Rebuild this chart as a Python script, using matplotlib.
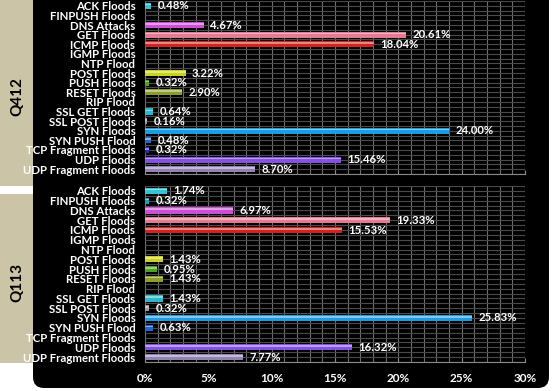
import numpy as np
import matplotlib
matplotlib.use("Agg")
import matplotlib.pyplot as plt
from matplotlib.patches import FancyBboxPatch

plt.rcParams['font.family'] = ['Lato', 'DejaVu Sans']

categories = ['ACK Floods', 'FINPUSH Floods', 'DNS Attacks', 'GET Floods', 'ICMP Floods',
              'IGMP Floods', 'NTP Flood', 'POST Floods', 'PUSH Floods', 'RESET Floods',
              'RIP Flood', 'SSL GET Floods', 'SSL POST Floods', 'SYN Floods',
              'SYN PUSH Flood', 'TCP Fragment Floods', 'UDP Floods', 'UDP Fragment Floods']

q412 = [0.48, 0, 4.67, 20.61, 18.04, 0, 0, 3.22, 0.32, 2.90, 0, 0.64, 0.16, 24.00,
        0.48, 0.32, 15.46, 8.70]
q113 = [1.74, 0.32, 6.97, 19.33, 15.53, 0, 0, 1.43, 0.95, 1.43, 0, 1.43, 0.32, 25.83,
        0.63, 0, 16.32, 7.77]

bar_colors = ['#34c4d4', '#1b9fb2', '#cc4fd6', '#e57a93', '#d3221f', '#888888', '#888888',
              '#c9d21e', '#4fa21c', '#8e9c2c', '#888888', '#2fb7c9', '#9a9a9a', '#1d9de0',
              '#2466cf', '#2a2ab8', '#8352e2', '#9282b4']

W, H = 554, 391
fig = plt.figure(figsize=(W / 100, H / 100), dpi=100)
fig.patch.set_facecolor('white')

# background shapes (pixel coordinates)
bg = fig.add_axes([0, 0, 1, 1])
bg.set_xlim(0, W)
bg.set_ylim(H, 0)
bg.axis('off')
tab = '#cbc4a6'
bg.add_patch(FancyBboxPatch((-20, -30), 65, 216, boxstyle='round,pad=0,rounding_size=10',
                            fc=tab, ec='none'))
bg.add_patch(FancyBboxPatch((-20, 194), 65, 169, boxstyle='round,pad=0,rounding_size=10',
                            fc=tab, ec='none'))
bg.add_patch(FancyBboxPatch((33, -30), 516, 418, boxstyle='round,pad=0,rounding_size=11',
                            fc='black', ec='none'))
bg.text(17, 97, 'Q412', rotation=90, ha='center', va='center', fontsize=11,
        fontweight='bold', color='black')
bg.text(17, 283, 'Q113', rotation=90, ha='center', va='center', fontsize=11,
        fontweight='bold', color='black')


def px_axes(x0, y0, x1, y1):
    return fig.add_axes([x0 / W, 1 - y1 / H, (x1 - x0) / W, (y1 - y0) / H])


def draw_panel(ax, values, show_x):
    n = len(categories)
    y = np.arange(n)
    ax.set_facecolor('black')
    ax.vlines(np.arange(0, 31, 1), -0.5, n - 0.5, color='#6e6e6e', lw=0.8, zorder=0)
    ax.hlines(np.arange(-0.5, n, 0.5), 0, 30, color='#4a4a4a', lw=0.8, zorder=0)
    ax.barh(y, values, height=0.64, color=bar_colors, edgecolor='none', zorder=2)
    # glossy highlight on top half of each bar
    ax.barh(y - 0.12, values, height=0.16, color='white', alpha=0.45,
            edgecolor='none', zorder=3)
    for yi, v in zip(y, values):
        if v > 0:
            ax.text(v + 0.5, yi, f'{v:.2f}%', ha='left', va='center', color='white',
                    fontsize=8.2, fontweight='bold', zorder=4)
    ax.set_xlim(0, 30)
    ax.set_ylim(n - 0.5, -0.5)
    ax.set_yticks(y)
    ax.set_yticklabels(categories, color='white', fontsize=8.2, fontweight='bold')
    ax.tick_params(axis='y', length=0, pad=7)
    ax.set_xticks(np.arange(0, 31, 5))
    ax.tick_params(axis='x', colors='#8a8a8a', length=3, direction='in')
    if show_x:
        ax.set_xticklabels([f'{t}%' for t in range(0, 31, 5)], color='white',
                           fontsize=8.5, fontweight='bold')
        ax.tick_params(axis='x', pad=8, labelcolor='white')
    else:
        ax.set_xticklabels([])
    for s in ['top', 'right', 'left']:
        ax.spines[s].set_visible(False)
    ax.spines['bottom'].set_color('#8a8a8a')


ax1 = px_axes(145, 1, 525, 174)
draw_panel(ax1, q412, False)
ax2 = px_axes(145, 186, 525, 362)
draw_panel(ax2, q113, True)

fig.savefig('out.png', dpi=100, facecolor='white')
